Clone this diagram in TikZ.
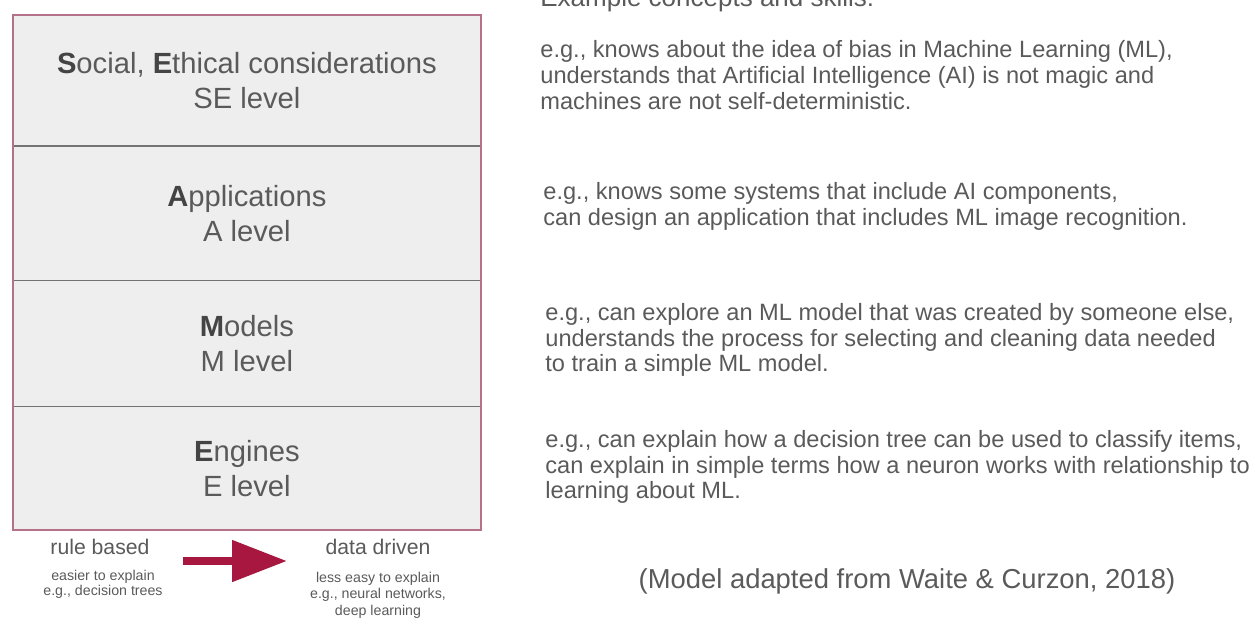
\documentclass[tikz,border=0pt]{standalone}
\usepackage{fontspec}
\setmainfont{Liberation Sans}
\usetikzlibrary{positioning,arrows.meta}

\definecolor{framered}{HTML}{B5708A}
\definecolor{arrowred}{HTML}{A8173F}
\definecolor{levelgray}{HTML}{EEEEEE}
\definecolor{txtgray}{HTML}{5A5A5A}
\definecolor{boldgray}{HTML}{444444}

\newcommand{\initial}[1]{{\bfseries\color{boldgray}#1}}

\begin{document}
\begin{tikzpicture}[
    x=0.5pt, y=-0.5pt,
    node distance=0pt,
    level/.style={rectangle, fill=levelgray, minimum width=233.5pt, inner sep=0pt, align=center, text=txtgray, font=\fontsize{14.6}{17.5}\selectfont},
    divider/.style={draw=black!55, line width=0.8pt},
    frame/.style={draw=framered, line width=1pt},
    example/.style={anchor=west, align=left, inner sep=0pt, text=txtgray, font=\fontsize{11.8}{12.9}\selectfont},
    side/.style={align=center, inner sep=0pt, text=txtgray, font=\fontsize{10.6}{12}\selectfont},
    small/.style={align=center, inner sep=0pt, text=txtgray, font=\fontsize{7.1}{7.6}\selectfont},
    bigarrow/.style={-{Triangle[length=27.5pt, width=20pt]}, line width=4pt, draw=arrowred}
  ]
    \useasboundingbox (0,0) rectangle (1255,618);
    \clip (0,0) rectangle (1255,618);

    % levels
    \node[level, minimum height=65pt, anchor=north west] (se) at (13,15) {\initial{S}ocial, \initial{E}thical considerations\\SE level};
    \node[level, minimum height=67pt, below=of se] (app) {\initial{A}pplications\\A level};
    \node[level, minimum height=62.5pt, below=of app] (mod) {\initial{M}odels\\M level};
    \node[level, minimum height=61.5pt, below=of mod] (eng) {\initial{E}ngines\\E level};

    \draw[divider] (se.south west) -- (se.south east);
    \draw[divider] (app.south west) -- (app.south east);
    \draw[divider] (mod.south west) -- (mod.south east);
    \draw[frame] (se.north west) rectangle (eng.south east);

    % examples
    \node[example, anchor=base west, font=\fontsize{13}{15}\selectfont] (head) at (540,6) {Example concepts and skills:};
    \node[example] (exse) at (540,75) {e.g., knows about the idea of bias in Machine Learning (ML),\\understands that Artificial Intelligence (AI) is not magic and\\machines are not self-deterministic.};
    \node[example] (exapp) at (543,206) {e.g., knows some systems that include AI components,\\can design an application that includes ML image recognition.};
    \node[example] (exmod) at (545,340) {e.g., can explore an ML model that was created by someone else,\\understands the process for selecting and cleaning data needed\\to train a simple ML model.};
    \node[example] (exeng) at (545,467) {e.g., can explain how a decision tree can be used to classify items,\\can explain in simple terms how a neuron works with relationship to\\learning about ML.};

    % rule based vs data driven
    \node[side] (rule) at (100,547) {rule based};
    \node[small] (rulenote) at (103,584) {easier to explain\\e.g., decision trees};
    \node[side] (data) at (378,547) {data driven};
    \node[small, font=\fontsize{7.1}{8.2}\selectfont] (datanote) at (378,595) {less easy to explain\\e.g., neural networks,\\deep learning};
    \coordinate (arrstart) at (183,561);
    \coordinate (arrend) at (287,561);
    \draw[bigarrow] (arrstart) -- (arrend);

    \node[side, font=\fontsize{13.7}{15}\selectfont] (source) at (907,581) {(Model adapted from Waite \& Curzon, 2018)};
\end{tikzpicture}
\end{document}
